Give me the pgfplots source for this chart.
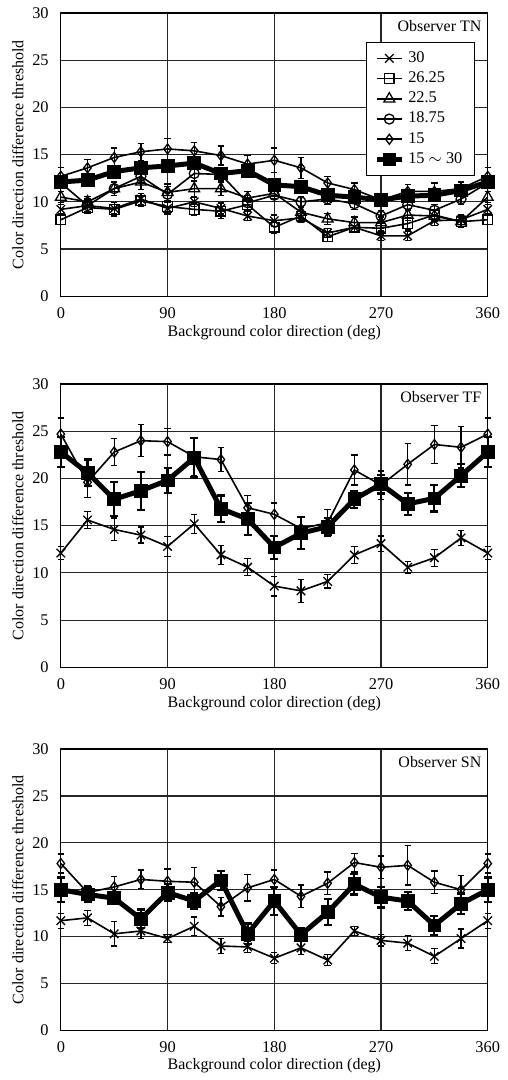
\documentclass[border=0pt]{standalone}
\usepackage{pgfplots}
\pgfplotsset{compat=1.18}
\usepackage{pgfplotstable}
\usepackage{fontspec}
\setmainfont{Liberation Serif}

% Observer TN: a=30, b=26.25, c=22.5, d=18.75, e=15, f=15~30
\pgfplotstableread{
x     a    ea   b    eb   c    ec   d    ed   e    ee   f    ef
0     9.2  0.5  8.1  0.5  10.5 0.6  12.0 0.6  12.7 0.9  12.1 0.5
22.5  9.6  0.6  9.4  0.6  10.0 0.6  9.6  0.7  13.6 0.9  12.3 0.4
45    9.3  0.6  9.2  0.7  11.4 0.7  11.4 0.7  14.7 1.0  13.2 0.5
67.5  10.3 0.6  10.1 0.6  12.1 0.8  12.7 0.7  15.3 0.9  13.6 0.5
90    9.3  0.6  9.5  0.6  11.0 0.9  10.8 0.8  15.6 1.1  13.8 0.5
112.5 10.0 0.5  9.2  0.6  11.4 0.8  13.0 0.8  15.4 0.9  14.1 0.5
135   9.3  0.6  9.0  0.8  11.4 0.7  12.9 0.7  14.9 1.0  13.0 0.5
157.5 8.5  0.5  9.7  0.7  10.4 0.7  9.9  0.8  14.0 0.9  13.3 0.5
180   8.0  0.6  7.3  0.6  10.9 0.6  10.7 0.7  14.4 1.3  11.8 0.5
202.5 8.3  0.5  8.5  0.6  8.9  0.6  10.0 0.6  13.6 1.1  11.6 0.5
225   6.7  0.5  6.3  0.5  8.2  0.6  10.3 0.6  12.0 0.7  10.7 0.4
247.5 7.3  0.5  7.3  0.5  7.8  0.6  9.8  0.6  11.3 0.7  10.5 0.4
270   6.4  0.5  7.2  0.6  7.8  0.6  8.5  0.6  10.2 0.6  10.2 0.4
292.5 6.4  0.5  7.7  0.6  8.6  0.6  9.7  0.6  11.1 0.7  10.6 0.4
315   8.0  0.5  8.6  0.6  8.5  0.6  9.1  0.6  11.1 0.9  10.7 0.5
337.5 8.1  0.5  7.9  0.5  7.9  0.6  10.3 0.6  11.4 0.7  11.2 0.5
360   9.2  0.5  8.1  0.5  10.5 0.6  12.0 0.6  12.7 0.9  12.1 0.5
}\tn

% Observer TF
\pgfplotstableread{
x     a    ea   e    ee   f    ef
0     12.1 0.7  24.7 1.7  22.8 1.6
22.5  15.6 0.9  19.6 1.6  20.6 1.4
45    14.6 1.2  22.8 1.4  17.8 1.8
67.5  14.0 0.85 24.0 1.7  18.7 2.0
90    12.8 1.05 23.9 1.4  19.8 1.3
112.5 15.2 1.0  22.3 2.0  22.2 2.1
135   11.9 1.0  22.0 1.3  16.8 1.4
157.5 10.6 0.9  16.9 1.3  15.7 1.7
180   8.6  1.05 16.2 1.2  12.7 1.2
202.5 8.1  1.2  14.7 1.2  14.2 1.7
225   9.1  0.7  15.3 1.4  14.9 0.9
247.5 11.9 0.9  20.9 1.6  17.8 0.9
270   13.1 0.8  19.3 1.5  19.4 1.0
292.5 10.6 0.6  21.5 2.2  17.3 1.2
315   11.6 0.9  23.6 2.0  17.9 1.4
337.5 13.7 0.8  23.3 2.2  20.3 1.2
360   12.1 0.7  24.7 1.7  22.8 1.6
}\tf

% Observer SN
\pgfplotstableread{
x     a    ea   e    ee   f    ef
0     11.7 0.8  17.8 1.0  15.0 1.3
22.5  12.0 0.8  14.7 0.7  14.5 0.8
45    10.3 1.3  15.3 1.1  14.1 0.6
67.5  10.6 0.8  16.1 1.0  11.9 1.0
90    9.8  0.4  15.9 1.3  14.7 0.9
112.5 11.1 1.0  15.8 1.6  13.8 0.8
135   9.0  0.8  13.2 1.0  16.0 1.0
157.5 8.9  0.6  15.2 1.4  10.3 1.1
180   7.7  0.6  16.1 1.0  13.8 1.5
202.5 8.8  0.7  14.3 1.2  10.2 0.7
225   7.5  0.6  15.7 1.2  12.6 1.4
247.5 10.6 0.5  17.9 1.0  15.6 1.1
270   9.6  0.6  17.4 1.2  14.2 1.1
292.5 9.3  0.8  17.6 2.1  13.8 1.0
315   7.9  0.8  15.8 1.2  11.2 1.0
337.5 9.8  1.0  15.0 1.5  13.5 1.1
360   11.7 0.8  17.8 1.0  15.0 1.3
}\sn

\pgfplotsset{
  panel/.style={
    width=214pt, height=142pt, scale only axis,
    xmin=0, xmax=360, ymin=0, ymax=30,
    xtick={0,90,180,270,360}, ytick={0,5,10,15,20,25,30},
    grid=major, major grid style={black!85, line width=0.55pt},
    axis line style={black, line width=0.65pt},
    tick style={draw=none},
    clip=false,
    /pgf/number format/assume math mode=true,
    tick label style={font=\fontsize{8.2}{9.8}\selectfont},
    yticklabel style={xshift=-2.6pt},
    xticklabel style={yshift=-2pt},
    xlabel={Background color direction (deg)},
    ylabel={Color direction difference threshold},
    every axis x label/.style={at={(axis description cs:0.5,-0.127)}, anchor=center, font=\fontsize{8}{9.6}\selectfont},
    every axis y label/.style={at={(axis description cs:-0.1005,0.5)}, anchor=center, rotate=90, font=\fontsize{8}{9.6}\selectfont},
    legend image code/.code={\draw[mark repeat=2,mark phase=2,##1] plot coordinates {(0cm,0cm) (0.22cm,0cm) (0.44cm,0cm)};},
  },
  thinser/.style={black, line width=0.8pt, mark options={solid, line width=0.65pt, fill=none},
    error bars/y dir=both, error bars/y explicit,
    error bars/error bar style={line width=0.65pt, black},
    error bars/error mark options={rotate=90, mark size=1.6pt, line width=0.65pt, black}},
  thickser/.style={black, line width=2.5pt, mark=square*, mark size=3.2pt, mark options={solid, line width=0.4pt, fill=black},
    error bars/y dir=both, error bars/y explicit,
    error bars/error bar style={line width=1.1pt, black},
    error bars/error mark options={rotate=90, mark size=2pt, line width=1.1pt, black}},
}

\begin{document}
\begin{tikzpicture}
\path (0pt,0pt) rectangle (254.5pt,-540pt);

% Panel 1
\begin{axis}[panel, at={(30.5pt,-148.5pt)}, anchor=south west,
  legend style={at={(axis description cs:0.970,0.898)}, anchor=north east,
    draw=black, line width=0.6pt, font=\fontsize{8.2}{9.8}\selectfont, fill=white,
    row sep=-0.8pt, inner xsep=4pt, inner ysep=2.5pt},
  legend cell align=left]
\addplot[thinser, mark=x, mark size=3pt] table[x=x, y=a, y error=ea]{\tn};
\addlegendentry{30}
\addplot[thinser, mark=square, mark size=2.4pt] table[x=x, y=b, y error=eb]{\tn};
\addlegendentry{26.25}
\addplot[thinser, mark=triangle, mark size=3.1pt] table[x=x, y=c, y error=ec]{\tn};
\addlegendentry{22.5}
\addplot[thinser, mark=o, mark size=2.5pt] table[x=x, y=d, y error=ed]{\tn};
\addlegendentry{18.75}
\addplot[thinser, mark=diamond, mark size=2.5pt] table[x=x, y=e, y error=ee]{\tn};
\addlegendentry{15}
\addplot[thickser] table[x=x, y=f, y error=ef]{\tn};
\addlegendentry{15 $\sim$ 30}
\node[anchor=east, font=\fontsize{8}{9.6}\selectfont, inner sep=0pt] at (axis description cs:0.986,0.955) {Observer TN};
\end{axis}

% Panel 2
\begin{axis}[panel, at={(30.5pt,-334.5pt)}, anchor=south west]
\addplot[thinser, mark=x, mark size=3pt] table[x=x, y=a, y error=ea]{\tf};
\addplot[thinser, mark=diamond, mark size=2.5pt] table[x=x, y=e, y error=ee]{\tf};
\addplot[thickser] table[x=x, y=f, y error=ef]{\tf};
\node[anchor=east, font=\fontsize{8}{9.6}\selectfont, inner sep=0pt] at (axis description cs:0.986,0.955) {Observer TF};
\end{axis}

% Panel 3
\begin{axis}[panel, at={(30.5pt,-516.5pt)}, anchor=south west, height=141pt]
\addplot[thinser, mark=x, mark size=3pt] table[x=x, y=a, y error=ea]{\sn};
\addplot[thinser, mark=diamond, mark size=2.5pt] table[x=x, y=e, y error=ee]{\sn};
\addplot[thickser] table[x=x, y=f, y error=ef]{\sn};
\node[anchor=east, font=\fontsize{8}{9.6}\selectfont, inner sep=0pt] at (axis description cs:0.986,0.955) {Observer SN};
\end{axis}
\end{tikzpicture}
\end{document}
